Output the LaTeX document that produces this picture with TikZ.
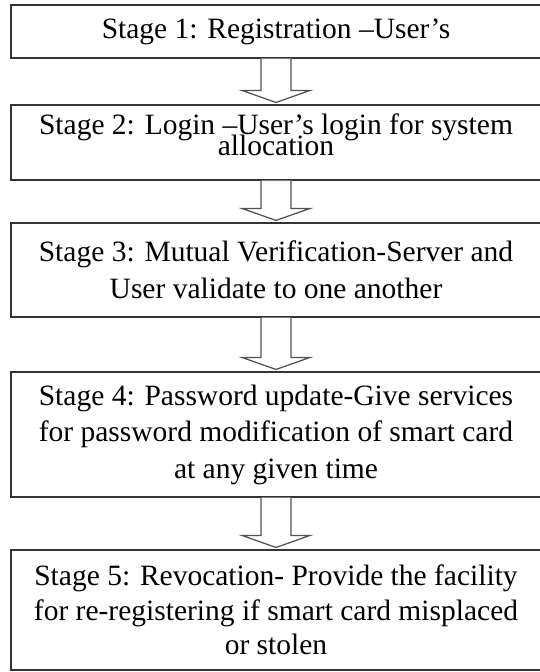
\documentclass[tikz,border=0pt]{standalone}
\usepackage{fontspec}
\setmainfont{Liberation Serif}
\usetikzlibrary{calc}

% squeezed lines, as in the second box
\newcommand{\tightlines}{\lineskiplimit=-100pt\relax}

% hollow block arrow from the bottom of one stage to the top of the next
\newcommand{\hollowdown}[2]{%
  \draw[blk] let \p1=(#1.south), \p2=(#2.north) in
    (\x1-15pt,\y1) -- (\x1-15pt,\y2+14pt) -- (\x1-34pt,\y2+14pt) --
    (\x1,\y2+2pt) -- (\x1+34pt,\y2+14pt) -- (\x1+15pt,\y2+14pt) --
    (\x1+15pt,\y1);}

\begin{document}
\begin{tikzpicture}[x=1pt, y=1pt,
  stg/.style={draw=black!80, line width=1.1pt, minimum width=530pt,
              align=center, inner sep=3pt,
              font=\fontsize{29.5}{36.5}\selectfont},
  blk/.style={draw=black!68, line width=1.25pt, fill=white, line join=miter}
]
  \useasboundingbox (0,0) rectangle (540,-672);

  \node[stg, minimum height=53pt] (s1) at (276,-31.5)
    {Stage 1: Registration –User’s};
  \node[stg, minimum height=75pt, text depth=16pt,
        font=\fontsize{29.5}{21.5}\selectfont\tightlines] (s2) at (276,-142.5)
    {Stage 2: Login –User’s login for system\\allocation};
  \node[stg, minimum height=94pt] (s3) at (276,-270)
    {Stage 3: Mutual Verification-Server and\\User validate to one another};
  \node[stg, minimum height=125pt] (s4) at (276,-434.5)
    {Stage 4: Password update-Give services\\for password modification of smart card\\at any given time};
  \node[stg, minimum height=120pt,
        font=\fontsize{29.5}{34.5}\selectfont] (s5) at (276,-610)
    {Stage 5: Revocation- Provide the facility\\for re-registering if smart card misplaced\\or stolen};

  \hollowdown{s1}{s2}
  \hollowdown{s2}{s3}
  \hollowdown{s3}{s4}
  \hollowdown{s4}{s5}
\end{tikzpicture}
\end{document}
